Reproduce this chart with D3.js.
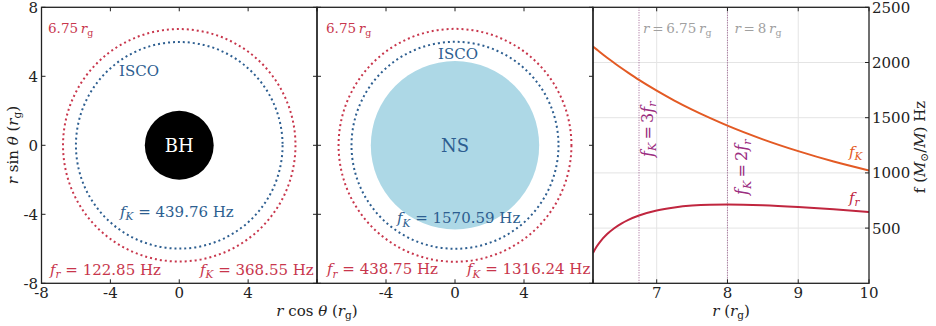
<!DOCTYPE html>
<html><head><meta charset="utf-8">
<script src="https://cdn.jsdelivr.net/npm/d3@7"></script>
<style>html,body{margin:0;padding:0;background:#fff;} svg{display:block;} text{white-space:pre;}</style>
</head><body><svg id="c" width="936" height="326"></svg>
<script>
// ---------- data ----------
const orbitRadii = [6, 6.75];            // ISCO, 6.75 r_g (r_g units)
const bhRadius = 2;                      // black hole
const nsRadius = 4.88;                   // neutron star
const bhFreqs = {fKisco: "439.76", fr: "122.85", fK: "368.55"};
const nsFreqs = {fKisco: "1570.59", fr: "438.75", fK: "1316.24"};
const rVals  = [6.1, 6.15, 6.2, 6.3, 6.4, 6.5, 6.6, 6.75, 7, 7.25, 7.5, 7.75, 8, 8.5, 9, 9.5, 10];
const fKVals = [2145, 2119, 2093, 2043, 1996, 1950, 1906, 1842, 1745, 1655, 1573, 1498, 1428, 1304, 1197, 1103, 1022];
const frVals = [275, 331, 376, 446, 499, 541, 575, 614, 659, 687, 704, 712, 714, 707, 691, 670, 646];
const resonanceR = [6.75, 8];
const circTicks = [-8, -4, 0, 4, 8];
const leftXLabels = [-8, -4, 0, 4];
const midXLabels = [-4, 0, 4];
const yLabels = [-8, -4, 0, 4, 8];
const rTicks = [7, 8, 9, 10];
const fTicks = [500, 1000, 1500, 2000, 2500];

// ---------- styles ----------
const FONT = "DejaVu Serif";
const RED = "#c8364c", BLUE = "#2d5e90", ORANGE = "#e35a24", CRIMSON = "#c0263f", PURPLE = "#9b2d7f", GRAY = "#a0a0a0", INK = "#222";
const TS = "\u2009";
const svg = d3.select("#c").style("font-family", FONT);
const Y0 = 7.3, Y1 = 283.3;
const P = [{x0: 41.5, x1: 317}, {x0: 317, x1: 593}, {x0: 593, x1: 869}];

function rich(parent, x, y, parts, o = {}) {
  const fs = o.fs || 15;
  const t = parent.append("text").attr("x", x).attr("y", y).attr("font-size", fs)
    .attr("fill", o.fill || INK).attr("text-anchor", o.anchor || "start");
  if (o.rotate) t.attr("transform", `rotate(${o.rotate},${x},${y})`);
  let shift = 0;
  parts.forEach(p => {
    const s = p.sub ? fs * 0.22 : 0;
    const ts = t.append("tspan").text(p.t).attr("dy", s - shift);
    shift = s;
    if (p.sub) ts.attr("font-size", fs * 0.7);
    if (p.i) ts.attr("font-style", "italic");
  });
  return t;
}
const R = t => ({t}), I = t => ({t, i: true}), S = t => ({t, sub: true}), IS = t => ({t, sub: true, i: true});

// ---------- circle panels ----------
const yC = d3.scaleLinear().domain([-8, 8]).range([Y1, Y0]);
function circlePanel(p, isNS, freqs, xLabels, isco, lab675, fkIscoPos, bottomY) {
  const x = d3.scaleLinear().domain([-8, 8]).range([p.x0, p.x1]);
  const g = svg.append("g");
  const cx = x(0), cy = yC(0), k = x(1) - x(0);
  if (isNS) {
    g.append("circle").attr("cx", cx).attr("cy", cy).attr("r", nsRadius * k).attr("fill", "#add8e6");
  } else {
    g.append("circle").attr("cx", cx).attr("cy", cy).attr("r", bhRadius * k).attr("fill", "#000");
  }
  g.selectAll("circle.orb").data(orbitRadii).join("circle").attr("class", "orb")
    .attr("cx", cx).attr("cy", cy).attr("r", d => d * k).attr("fill", "none")
    .attr("stroke", (d, i) => i === 0 ? BLUE : RED).attr("stroke-width", 2).attr("stroke-dasharray", "2 3");
  // labels
  g.append("text").attr("x", cx).attr("y", 151.7).attr("text-anchor", "middle").attr("font-size", 18)
    .attr("fill", isNS ? BLUE : "#fff").text(isNS ? "NS" : "BH");
  rich(g, lab675[0], 33, [R("6.75" + TS), I("r"), S("g")], {fill: RED, fs: 13.5});
  rich(g, isco[0], isco[1], [R("ISCO")], {fill: BLUE});
  rich(g, fkIscoPos[0], fkIscoPos[1], [I("f"), IS("K"), R(" = " + freqs.fKisco + " Hz")], {fill: BLUE});
  rich(g, bottomY[0], bottomY[2], [I("f"), IS("r"), R(" = " + freqs.fr + " Hz")], {fill: RED});
  rich(g, bottomY[1], bottomY[2], [I("f"), IS("K"), R(" = " + freqs.fK + " Hz")], {fill: RED});
  // ticks
  const t = svg.append("g").attr("stroke", INK).attr("stroke-width", 1);
  circTicks.forEach(v => {
    t.append("line").attr("x1", x(v)).attr("x2", x(v)).attr("y1", Y1).attr("y2", Y1 - 4);
    t.append("line").attr("x1", x(v)).attr("x2", x(v)).attr("y1", Y0).attr("y2", Y0 + 4);
    t.append("line").attr("y1", yC(v)).attr("y2", yC(v)).attr("x1", p.x0).attr("x2", p.x0 + 4);
    t.append("line").attr("y1", yC(v)).attr("y2", yC(v)).attr("x1", p.x1).attr("x2", p.x1 - 4);
  });
  svg.append("g").selectAll("text").data(xLabels).join("text")
    .attr("x", d => x(d)).attr("y", 297.5).attr("text-anchor", "middle").attr("font-size", 15).attr("fill", INK)
    .text(d => d);
}
circlePanel(P[0], false, bhFreqs, leftXLabels, [119, 76], [48], [120, 216.7], [50, 200, 275]);
circlePanel(P[1], true, nsFreqs, midXLabels, [438, 59.3], [326], [397, 223.3], [327, 467, 274.3]);

svg.append("g").selectAll("text").data(yLabels).join("text")
  .attr("x", 38).attr("y", d => yC(d)).attr("dy", "0.36em").attr("text-anchor", "end")
  .attr("font-size", 15).attr("fill", INK).text(d => d);

rich(svg, 18, 145, [I("r"), R(" sin "), I("θ"), R(" ("), I("r"), S("g"), R(")")], {anchor: "middle", rotate: -90});
rich(svg, 317, 315.5, [I("r"), R(" cos "), I("θ"), R(" ("), I("r"), S("g"), R(")")], {anchor: "middle"});

// ---------- frequency panel ----------
const p3 = P[2];
const xr = d3.scaleLinear().domain([6.1, 10]).range([p3.x0, p3.x1]);
const yf = d3.scaleLinear().domain([0, 2500]).range([Y1, Y0]);
const g3 = svg.append("g");
svg.append("clipPath").attr("id", "clip3").append("rect")
  .attr("x", p3.x0).attr("y", Y0).attr("width", p3.x1 - p3.x0).attr("height", Y1 - Y0);
g3.append("g").selectAll("line").data(rTicks.slice(0, 3)).join("line")
  .attr("x1", d => xr(d)).attr("x2", d => xr(d)).attr("y1", Y0).attr("y2", Y1)
  .attr("stroke", "#e4e4e4").attr("stroke-width", 1);
g3.append("g").selectAll("line").data(fTicks.slice(0, 4)).join("line")
  .attr("y1", d => yf(d)).attr("y2", d => yf(d)).attr("x1", p3.x0).attr("x2", p3.x1)
  .attr("stroke", "#e4e4e4").attr("stroke-width", 1);
g3.append("g").selectAll("line").data(resonanceR).join("line")
  .attr("x1", d => xr(d)).attr("x2", d => xr(d)).attr("y1", Y0).attr("y2", Y1)
  .attr("stroke", "#8a3a78").attr("stroke-width", 0.8).attr("stroke-dasharray", "1 1.5");
const pts = rVals.map((r, i) => ({r, fK: fKVals[i], fr: frVals[i]}));
const cg = g3.append("g").attr("clip-path", "url(#clip3)");
cg.append("path").attr("d", d3.line().x(d => xr(d.r)).y(d => yf(d.fK)).curve(d3.curveMonotoneX)(pts))
  .attr("fill", "none").attr("stroke", ORANGE).attr("stroke-width", 2);
cg.append("path").attr("d", d3.line().x(d => xr(d.r)).y(d => yf(d.fr)).curve(d3.curveMonotoneX)(pts))
  .attr("fill", "none").attr("stroke", CRIMSON).attr("stroke-width", 2);

rich(g3, xr(6.75) + 4, 33, [I("r"), R(TS + "=" + TS + "6.75" + TS), I("r"), S("g")], {fill: GRAY, fs: 13.5});
rich(g3, xr(8) + 7, 33, [I("r"), R(TS + "=" + TS + "8" + TS), I("r"), S("g")], {fill: GRAY, fs: 13.5});
rich(g3, xr(6.75) + 13.5, 157, [I("f"), IS("K"), R(TS + "=" + TS + "3"), I("f"), IS("r")], {fill: PURPLE, fs: 16, rotate: -90});
rich(g3, xr(8) + 20, 195, [I("f"), IS("K"), R(TS + "=" + TS + "2"), I("f"), IS("r")], {fill: PURPLE, fs: 16, rotate: -90});
rich(g3, 849, 157, [I("f"), IS("K")], {fill: ORANGE});
rich(g3, 849, 203, [I("f"), IS("r")], {fill: CRIMSON});

const t3 = svg.append("g").attr("stroke", INK).attr("stroke-width", 1);
rTicks.forEach(v => {
  t3.append("line").attr("x1", xr(v)).attr("x2", xr(v)).attr("y1", Y1).attr("y2", Y1 - 4);
  t3.append("line").attr("x1", xr(v)).attr("x2", xr(v)).attr("y1", Y0).attr("y2", Y0 + 4);
});
fTicks.forEach(v => {
  t3.append("line").attr("y1", yf(v)).attr("y2", yf(v)).attr("x1", p3.x1).attr("x2", p3.x1 - 4);
});
svg.append("g").selectAll("text").data(rTicks).join("text")
  .attr("x", d => xr(d)).attr("y", 297.5).attr("text-anchor", "middle").attr("font-size", 15).attr("fill", INK).text(d => d);
svg.append("g").selectAll("text").data(fTicks).join("text")
  .attr("x", p3.x1 + 3).attr("y", d => yf(d)).attr("dy", "0.36em").attr("font-size", 15).attr("fill", INK).text(d => d);
rich(svg, 731, 315.5, [I("r"), R(" ("), I("r"), S("g"), R(")")], {anchor: "middle"});
rich(svg, 925, 147, [R("f ("), I("M"), S("⊙"), R("/"), I("M"), R(") Hz")], {anchor: "middle", rotate: -90});

// ---------- spines ----------
P.forEach(p => {
  svg.append("rect").attr("x", p.x0).attr("y", Y0).attr("width", p.x1 - p.x0).attr("height", Y1 - Y0)
    .attr("fill", "none").attr("stroke", INK).attr("stroke-width", 1.3);
});
</script></body></html>
